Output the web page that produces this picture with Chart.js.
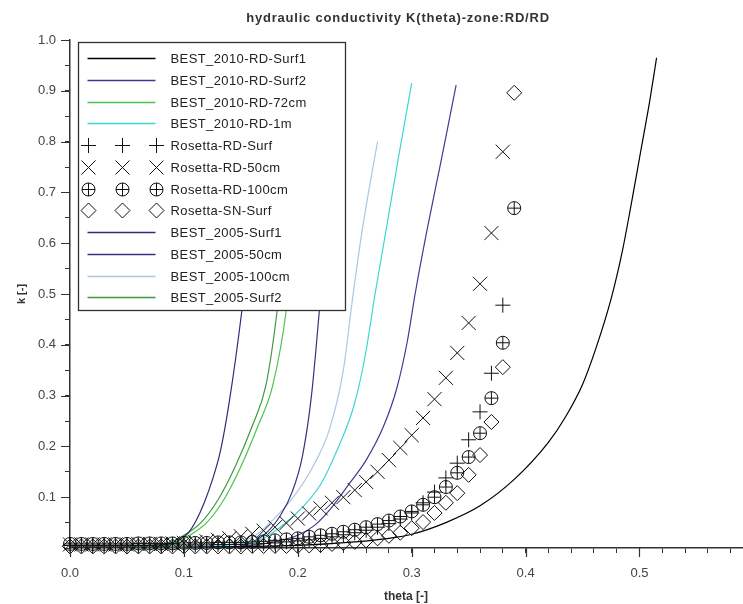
<!DOCTYPE html>
<html><head><meta charset="utf-8">
<script src="https://cdn.jsdelivr.net/npm/chart.js@4.4.1/dist/chart.umd.min.js"></script>
<style>html,body{margin:0;padding:0;background:#fff}#wrap{width:743px;height:604px}</style>
</head><body><div id="wrap"><canvas id="c" width="743" height="604"></canvas></div>
<script>
// ---------- texts ----------
const chartTitle = 'hydraulic conductivity K(theta)-zone:RD/RD';
const xTitle = 'theta [-]';
const yTitle = 'k [-]';
const xTickLabels = ['0.0', '0.1', '0.2', '0.3', '0.4', '0.5'];
const yTickLabels = ['0.1', '0.2', '0.3', '0.4', '0.5', '0.6', '0.7', '0.8', '0.9', '1.0'];
const seriesNames = ['BEST_2010-RD-Surf1', 'BEST_2010-RD-Surf2', 'BEST_2010-RD-72cm', 'BEST_2010-RD-1m',
  'Rosetta-RD-Surf', 'Rosetta-RD-50cm', 'Rosetta-RD-100cm', 'Rosetta-SN-Surf',
  'BEST_2005-Surf1', 'BEST_2005-50cm', 'BEST_2005-100cm', 'BEST_2005-Surf2'];

// ---------- BEST curves (theta, k) ----------
const best2010Surf1Theta = [0.00, 0.10, 0.15, 0.20, 0.25, 0.28, 0.30, 0.33, 0.36, 0.39, 0.42, 0.435, 0.45, 0.462, 0.475, 0.485, 0.493, 0.501, 0.509, 0.515];
const best2010Surf1K     = [0.002, 0.002, 0.003, 0.005, 0.012, 0.019, 0.027, 0.050, 0.083, 0.135, 0.208, 0.258, 0.322, 0.395, 0.490, 0.585, 0.680, 0.780, 0.880, 0.965];

const best2010Surf2Theta = [0.10, 0.14, 0.17, 0.20, 0.215, 0.228, 0.243, 0.26, 0.275, 0.287, 0.296, 0.303, 0.314, 0.326, 0.339];
const best2010Surf2K     = [0.000, 0.002, 0.008, 0.025, 0.045, 0.075, 0.120, 0.173, 0.238, 0.315, 0.405, 0.500, 0.632, 0.764, 0.911];

const best2010_72cmTheta = [0.00, 0.075, 0.09, 0.105, 0.12, 0.135, 0.15, 0.165, 0.178, 0.19, 0.198, 0.205, 0.209];
const best2010_72cmK     = [0.000, 0.001, 0.008, 0.025, 0.050, 0.095, 0.160, 0.240, 0.320, 0.470, 0.650, 0.850, 0.960];

const best2010_1mTheta = [0.06, 0.10, 0.14, 0.167, 0.184, 0.204, 0.22, 0.234, 0.249, 0.259, 0.268, 0.278, 0.288, 0.300];
const best2010_1mK     = [0.000, 0.001, 0.006, 0.016, 0.040, 0.080, 0.125, 0.190, 0.278, 0.376, 0.502, 0.632, 0.764, 0.915];

const best2005Surf1Theta = [0.00, 0.08, 0.09, 0.096, 0.104, 0.111, 0.118, 0.125, 0.132, 0.14, 0.151, 0.16, 0.168, 0.172];
const best2005Surf1K     = [0.005, 0.006, 0.010, 0.016, 0.030, 0.055, 0.090, 0.134, 0.190, 0.290, 0.469, 0.650, 0.850, 0.960];

const best2005_50cmTheta = [0.13, 0.15, 0.17, 0.185, 0.195, 0.204, 0.212, 0.219, 0.226, 0.233, 0.237];
const best2005_50cmK     = [0.000, 0.004, 0.025, 0.065, 0.110, 0.180, 0.300, 0.469, 0.650, 0.850, 0.960];

const best2005_100cmTheta = [0.06, 0.10, 0.13, 0.161, 0.178, 0.196, 0.213, 0.228, 0.24, 0.248, 0.257, 0.27];
const best2005_100cmK     = [0.000, 0.001, 0.004, 0.022, 0.055, 0.100, 0.159, 0.235, 0.350, 0.490, 0.632, 0.800];

const best2005Surf2Theta = [0.00, 0.07, 0.085, 0.10, 0.115, 0.13, 0.145, 0.16, 0.172, 0.182, 0.19, 0.197, 0.201];
const best2005Surf2K     = [0.000, 0.001, 0.008, 0.025, 0.050, 0.095, 0.160, 0.240, 0.320, 0.470, 0.650, 0.850, 0.960];

// ---------- Rosetta points ----------
const rosettaTheta = [0.00, 0.01, 0.02, 0.03, 0.04, 0.05, 0.06, 0.07, 0.08, 0.09,
  0.10, 0.11, 0.12, 0.13, 0.14, 0.15, 0.16, 0.17, 0.18, 0.19,
  0.20, 0.21, 0.22, 0.23, 0.24, 0.25, 0.26, 0.27, 0.28, 0.29,
  0.30, 0.31, 0.32, 0.33, 0.34, 0.35, 0.36, 0.37, 0.38, 0.39];
const rosettaRdSurfK = [0.005, 0.005, 0.005, 0.005, 0.005, 0.005, 0.005, 0.005, 0.006, 0.006,
  0.006, 0.006, 0.006, 0.007, 0.007, 0.007, 0.008, 0.009, 0.010, 0.012,
  0.014, 0.016, 0.019, 0.022, 0.026, 0.030, 0.035, 0.041, 0.048, 0.057,
  0.069, 0.089, 0.110, 0.138, 0.167, 0.213, 0.268, 0.344, 0.478];
const rosettaRd50K = [0.007, 0.007, 0.007, 0.007, 0.007, 0.007, 0.008, 0.008, 0.008, 0.009,
  0.010, 0.011, 0.013, 0.016, 0.019, 0.023, 0.028, 0.034, 0.041, 0.049,
  0.058, 0.068, 0.078, 0.089, 0.100, 0.114, 0.130, 0.150, 0.173, 0.197,
  0.222, 0.256, 0.293, 0.335, 0.384, 0.443, 0.520, 0.620, 0.780];
const rosettaRd100K = [0.008, 0.008, 0.008, 0.008, 0.008, 0.008, 0.009, 0.009, 0.009, 0.009,
  0.010, 0.010, 0.010, 0.011, 0.011, 0.011, 0.012, 0.013, 0.015, 0.017,
  0.019, 0.022, 0.025, 0.028, 0.032, 0.036, 0.041, 0.047, 0.054, 0.062,
  0.072, 0.085, 0.100, 0.120, 0.148, 0.179, 0.226, 0.295, 0.404, 0.669];
const rosettaSnSurfK = [0.003, 0.003, 0.003, 0.003, 0.003, 0.003, 0.003, 0.003, 0.003, 0.003,
  0.003, 0.003, 0.003, 0.003, 0.003, 0.003, 0.004, 0.004, 0.004, 0.004,
  0.004, 0.005, 0.006, 0.008, 0.010, 0.012, 0.015, 0.019, 0.024, 0.030,
  0.039, 0.051, 0.069, 0.089, 0.108, 0.144, 0.183, 0.248, 0.356, 0.896];

// ---------- helpers ----------
function pts(xs, ys) { return ys.map((y, i) => ({ x: xs[i], y: y })); }

const colors = ['#000000', '#3c3c96', '#4ec24e', '#3fd4d4', '#111', '#111', '#111', '#111', '#2e2e78', '#34347e', '#a9c9e2', '#3f9a3f'];
// marker style per legend entry (null for lines)
const markerKinds = [null, null, null, null, 'plus', 'cross', 'oplus', 'diamond', null, null, null, null];

function lineDs(i, xs, ys) {
  return { label: seriesNames[i], data: pts(xs, ys), showLine: true, borderColor: colors[i], borderWidth: 1.2,
    pointRadius: 0, cubicInterpolationMode: 'monotone', fill: false, order: 1 };
}
function markDs(i, xs, ys, style, r) {
  return { label: seriesNames[i], data: pts(xs, ys), showLine: false, pointStyle: style, pointRadius: r,
    pointBorderWidth: 1, borderWidth: 1, borderColor: '#111', backgroundColor: 'rgba(0,0,0,0)', order: 0, clip: false };
}

const datasets = [
  lineDs(0, best2010Surf1Theta, best2010Surf1K),
  lineDs(1, best2010Surf2Theta, best2010Surf2K),
  lineDs(2, best2010_72cmTheta, best2010_72cmK),
  lineDs(3, best2010_1mTheta, best2010_1mK),
  markDs(4, rosettaTheta, rosettaRdSurfK, 'cross', 7.5),
  markDs(5, rosettaTheta, rosettaRd50K, 'crossRot', 10),
  markDs(6, rosettaTheta, rosettaRd100K, 'circle', 6.5),
  markDs(6, rosettaTheta, rosettaRd100K, 'cross', 6.5),
  markDs(7, rosettaTheta, rosettaSnSurfK, 'rectRot', 7.5),
  lineDs(8, best2005Surf1Theta, best2005Surf1K),
  lineDs(9, best2005_50cmTheta, best2005_50cmK),
  lineDs(10, best2005_100cmTheta, best2005_100cmK),
  lineDs(11, best2005Surf2Theta, best2005Surf2K)
];

function drawMarker(ctx, kind, x, y) {
  ctx.beginPath();
  if (kind === 'plus') {
    ctx.moveTo(x, y - 7.5); ctx.lineTo(x, y + 7.5); ctx.moveTo(x - 7.5, y); ctx.lineTo(x + 7.5, y);
  } else if (kind === 'cross') {
    ctx.moveTo(x - 7, y - 7); ctx.lineTo(x + 7, y + 7); ctx.moveTo(x + 7, y - 7); ctx.lineTo(x - 7, y + 7);
  } else if (kind === 'oplus') {
    ctx.arc(x, y, 6.5, 0, Math.PI * 2);
    ctx.moveTo(x, y - 6.5); ctx.lineTo(x, y + 6.5); ctx.moveTo(x - 6.5, y); ctx.lineTo(x + 6.5, y);
  } else if (kind === 'diamond') {
    ctx.moveTo(x, y - 7.5); ctx.lineTo(x + 7.5, y); ctx.lineTo(x, y + 7.5); ctx.lineTo(x - 7.5, y); ctx.closePath();
  }
  ctx.stroke();
}

function isTenth(v) { return Math.abs(v * 10 - Math.round(v * 10)) < 1e-6; }

const decorPlugin = {
  id: 'decor',
  afterDatasetsDraw(chart) {
    const ctx = chart.ctx, ca = chart.chartArea;
    const xs = chart.scales.x, ys = chart.scales.y;
    ctx.save();
    // major ticks
    ctx.strokeStyle = '#333'; ctx.lineWidth = 1.2;
    ctx.beginPath();
    xTickLabels.forEach(t => { const px = Math.round(xs.getPixelForValue(parseFloat(t))) + 0.5; ctx.moveTo(px, ca.bottom); ctx.lineTo(px, ca.bottom + 9); });
    yTickLabels.forEach(t => { const py = Math.round(ys.getPixelForValue(parseFloat(t))) + 0.5; ctx.moveTo(ca.left, py); ctx.lineTo(ca.left - 9, py); });
    ctx.stroke();
    // title
    ctx.fillStyle = '#333';
    ctx.font = 'bold 13px "Liberation Sans", Arial, sans-serif';
    ctx.letterSpacing = '0.8px';
    ctx.textAlign = 'center'; ctx.textBaseline = 'middle';
    ctx.fillText(chartTitle, (ca.left + ca.right) / 2 - 8, 18);
    // legend
    const L = Math.round(ca.left) + 8.5, T = Math.round(ca.top) + 2.5, W = 267, H = 268;
    ctx.fillStyle = '#fff';
    ctx.fillRect(L, T, W, H);
    ctx.strokeStyle = '#333'; ctx.lineWidth = 1.3;
    ctx.strokeRect(L, T, W, H);
    ctx.font = '13px "Liberation Sans", Arial, sans-serif';
    ctx.letterSpacing = '0.4px';
    ctx.textAlign = 'left';
    seriesNames.forEach((name, i) => {
      const y = Math.round(T + 15.5 + i * 21.75) + 0.5;
      if (markerKinds[i]) {
        ctx.strokeStyle = '#111'; ctx.lineWidth = 1;
        [L + 9, L + 43, L + 77].forEach(mx => drawMarker(ctx, markerKinds[i], Math.round(mx) + 0.5, y));
      } else {
        ctx.strokeStyle = colors[i]; ctx.lineWidth = 1.3;
        ctx.beginPath(); ctx.moveTo(L + 9, y); ctx.lineTo(L + 77, y); ctx.stroke();
      }
      ctx.fillStyle = '#222';
      ctx.fillText(name, L + 92, y + 0.5);
    });
    ctx.restore();
  }
};

new Chart(document.getElementById('c'), {
  type: 'scatter',
  data: { datasets: datasets },
  plugins: [decorPlugin],
  options: {
    responsive: false, animation: false, devicePixelRatio: 1,
    layout: { autoPadding: false, padding: { left: 0, right: 1, top: 40, bottom: 0 } },
    plugins: { legend: { display: false }, tooltip: { enabled: false }, title: { display: false } },
    scales: {
      x: {
        type: 'linear', min: 0, max: 0.59,
        afterFit: s => { s.height = 56; s.paddingLeft = 0; s.paddingRight = 0; },
        grid: { drawOnChartArea: false, drawTicks: true, tickLength: 5, color: '#333', tickWidth: 1 },
        border: { display: true, color: '#333', width: 1.5 },
        ticks: {
          stepSize: 0.02, autoSkip: false, includeBounds: false, maxRotation: 0, padding: 13,
          color: '#444', font: { family: '"Liberation Sans", Arial, sans-serif', size: 13 },
          callback: v => { if (!isTenth(v)) return ''; const i = Math.round(v * 10); return xTickLabels[i] || ''; }
        },
        title: { display: true, text: xTitle, color: '#333', font: { family: '"Liberation Sans", Arial, sans-serif', size: 12, weight: 'bold' }, padding: { top: 6, bottom: 0 } }
      },
      y: {
        type: 'linear', min: 0, max: 1.0,
        afterFit: s => { s.width = 70; s.paddingTop = 0; s.paddingBottom = 0; },
        grid: { drawOnChartArea: false, drawTicks: true, tickLength: 5, color: '#333', tickWidth: 1 },
        border: { display: true, color: '#333', width: 1.5 },
        ticks: {
          stepSize: 0.05, autoSkip: false, padding: 9,
          color: '#444', font: { family: '"Liberation Sans", Arial, sans-serif', size: 13 },
          callback: v => { if (!isTenth(v) || v < 0.05) return ''; const i = Math.round(v * 10) - 1; return yTickLabels[i] || ''; }
        },
        title: { display: true, text: yTitle, color: '#333', font: { family: '"Liberation Sans", Arial, sans-serif', size: 11, weight: 'bold' }, padding: { top: 15, bottom: 0 } }
      }
    }
  }
});
</script>
</body></html>
